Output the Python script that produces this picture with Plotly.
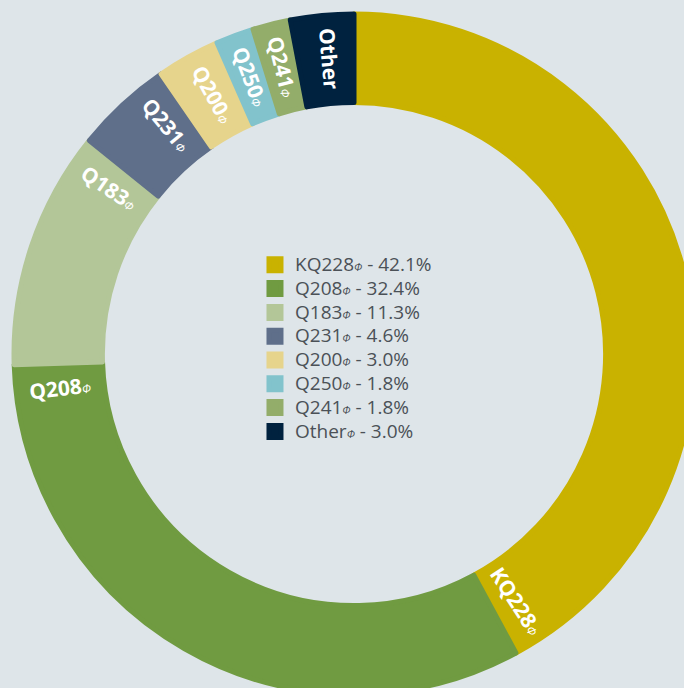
import math
import plotly.graph_objects as go

# slice data (percent shares, clockwise from 12 o'clock)
names = ["KQ228", "Q208", "Q183", "Q231", "Q200", "Q250", "Q241", "Other"]
shares = [42.1, 32.4, 11.3, 4.6, 3.0, 1.8, 1.8, 3.0]
colors = ["#c9b200", "#709b41", "#b3c698", "#5f6f8a",
          "#e6d48c", "#82c3cc", "#93ad6a", "#00223f"]

BG = "#dee5e9"
W = H = 708          # a bit larger than the window so the ring gets cropped
M = 14               # margin around the pie domain
HOLE = 0.74
LINE_W = 5           # same-colour outline; also enlarges the legend squares

phi = "<span style='font-size:11px;font-weight:normal'><i>Φ</i></span>"
phi_lbl = "<span style='font-size:12px;font-weight:normal'><i>Φ</i></span>"
legend_labels = [f"<span style='font-size:19px'>{n}{phi} - {v:.1f}%</span>"
                 for n, v in zip(names, shares)]

fig = go.Figure(go.Pie(
    labels=legend_labels,
    values=shares,
    sort=False,
    direction="clockwise",
    rotation=0,
    hole=HOLE,
    textinfo="none",
    hoverinfo="label",
    marker=dict(colors=colors, line=dict(color=colors, width=LINE_W)),
))

# radial slice labels, placed near the end of each slice
r_mid = (1 + HOLE) / 2 * 0.5   # ring middle in paper units
annotations = []
total = sum(shares)
cum = 0.0
for n, v in zip(names, shares):
    start = cum / total * 360
    cum += v
    end = cum / total * 360
    span = end - start
    theta = end - min(span / 2, 4.8)
    t = math.radians(theta)
    ang = theta - 90
    while ang > 90:
        ang -= 180
    while ang <= -90:
        ang += 180
    mark = "" if n == "Other" else phi_lbl
    annotations.append(dict(
        x=0.5 + r_mid * math.sin(t), y=0.5 + r_mid * math.cos(t),
        xref="paper", yref="paper", showarrow=False,
        xanchor="center", yanchor="middle", textangle=ang,
        text=f"<b>{n}</b>{mark}",
        font=dict(family="Open Sans", size=21, color="white"),
    ))

fig.update_layout(
    width=W, height=H,
    margin=dict(l=M, r=M, t=M, b=M),
    paper_bgcolor=BG, plot_bgcolor=BG,
    showlegend=True,
    legend=dict(
        x=0.3544, y=0.656, xanchor="left", yanchor="top",
        bgcolor="rgba(0,0,0,0)",
        font=dict(family="Open Sans", size=16, color="#4b5157"),
    ),
    annotations=annotations,
)

fig.write_html(
    "out.html",
    config={"displayModeBar": False},
    post_script="document.body.style.margin='0';"
                "document.body.style.overflow='hidden';"
                "document.documentElement.style.overflow='hidden';",
)
